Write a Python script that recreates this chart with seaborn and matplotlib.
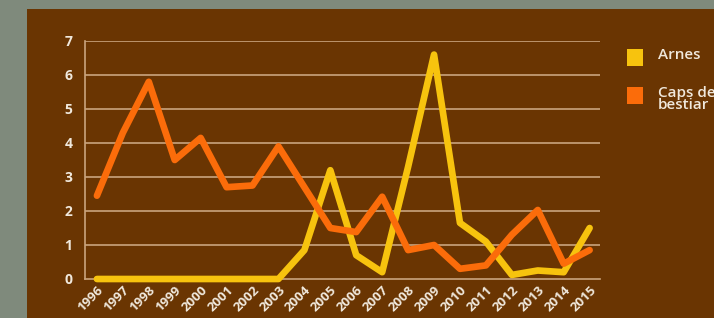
import matplotlib
matplotlib.use("Agg")
import matplotlib.pyplot as plt
import seaborn as sns
import pandas as pd
from matplotlib.patches import Rectangle

years = list(range(1996, 2016))
arnes = [0, 0, 0, 0, 0, 0, 0, 0, 0.85, 3.2, 0.7, 0.2, 3.3, 6.6, 1.65, 1.1, 0.12, 0.25, 0.2, 1.5]
caps = [2.45, 4.3, 5.8, 3.5, 4.15, 2.7, 2.75, 3.9, 2.7, 1.5, 1.38, 2.42, 0.85, 1.0, 0.3, 0.4, 1.3, 2.03, 0.45, 0.85]
series_names = ["Arnes", "Caps de\nbestiar"]
yticks = list(range(0, 8))

df = pd.DataFrame({
    "year": years * 2,
    "value": arnes + caps,
    "serie": [series_names[0]] * len(years) + [series_names[1]] * len(years),
})

brown = "#6a3502"
border = "#7f8a7c"
text_c = "#f0e8dc"
grid_c = "#c9a47e"
palette = {series_names[0]: "#f7c30e", series_names[1]: "#fb6c0a"}

sns.set_theme(style="white")
plt.rcParams["font.family"] = ["Open Sans", "DejaVu Sans"]

fig = plt.figure(figsize=(7.14, 3.18), dpi=100)
fig.patch.set_facecolor(border)
fig.patches.append(Rectangle((27 / 714, 0), 1, 1 - 9 / 318, transform=fig.transFigure,
                             facecolor=brown, edgecolor="none", zorder=-5))

ax = fig.add_axes([85 / 714, 39 / 318, 515 / 714, 238 / 318])
ax.set_zorder(2)
ax.set_facecolor("none")
sns.lineplot(data=df, x="year", y="value", hue="serie", palette=palette, ax=ax,
             linewidth=4.8, legend=False, zorder=3, clip_on=False)
for ln in ax.get_lines():
    ln.set_solid_joinstyle("round")

ax.set_xlim(1995.54, 2015.4)
ax.set_ylim(0, 7)
ax.set_yticks(yticks)
ax.set_xticks(years)
for y in yticks[1:]:
    ax.axhline(y, color=grid_c, lw=1.2, zorder=1)
for s in ["top", "right"]:
    ax.spines[s].set_visible(False)
ax.spines["left"].set_color(grid_c)
ax.spines["bottom"].set_color(grid_c)
ax.spines["left"].set_linewidth(1.2)
ax.spines["bottom"].set_linewidth(1.2)
ax.set_xlabel("")
ax.set_ylabel("")
ax.tick_params(axis="both", length=0, colors=text_c)
ax.tick_params(axis="y", pad=9)
ax.tick_params(axis="x", pad=3)
for lab in ax.get_yticklabels():
    lab.set_fontsize(10)
    lab.set_fontweight("bold")
for lab in ax.get_xticklabels():
    lab.set_fontsize(9.5)
    lab.set_fontweight("bold")
    lab.set_rotation(45)
    lab.set_ha("right")
    lab.set_rotation_mode("anchor")

# legend
leg_items = [(series_names[0], 58), (series_names[1], 96)]
for name, ypix in leg_items:
    fig.patches.append(Rectangle((627 / 714, 1 - (ypix + 8) / 318), 16 / 714, 17 / 318,
                                 transform=fig.transFigure, facecolor=palette[name],
                                 edgecolor="none", zorder=2))
    fig.text(658 / 714, 1 - (ypix - 10) / 318, name, color=text_c, fontsize=11,
             fontweight="semibold", va="top", ha="left", linespacing=0.85)

fig.savefig("out.png", dpi=100, facecolor=fig.get_facecolor())
